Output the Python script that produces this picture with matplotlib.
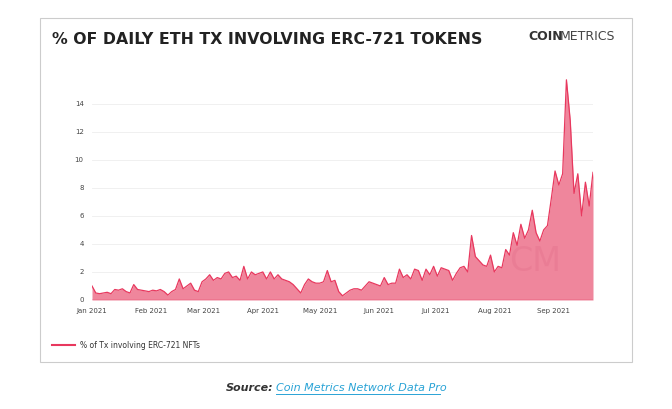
import matplotlib
matplotlib.use("Agg")
import matplotlib.pyplot as plt
import pandas as pd
from matplotlib.patches import Rectangle
from matplotlib.lines import Line2D

start_date = "2021-01-01"
values = [1.0,0.5,0.45,0.5,0.55,0.45,0.75,0.7,0.8,0.6,0.5,1.1,0.75,0.7,0.65,0.6,
          0.7,0.65,0.75,0.6,0.35,0.6,0.75,1.5,0.8,1.0,1.2,0.7,0.6,1.3,
          1.5,1.8,1.4,1.6,1.5,1.9,2.0,1.6,1.7,1.4,2.4,1.5,2.0,1.8,1.9,
          2.0,1.5,2.0,1.5,1.8,1.5,1.4,1.3,1.1,0.8,0.5,
          1.1,1.5,1.3,1.2,1.2,1.3,2.1,1.3,1.4,0.6,0.3,0.5,0.7,0.8,0.8,0.7,1.0,1.3,1.2,1.1,
          1.0,1.6,1.1,1.2,1.2,2.2,1.6,1.8,1.5,2.2,2.1,1.4,2.2,1.8,2.4,
          1.7,2.3,2.2,2.1,1.4,1.9,2.3,2.4,2.0,4.6,3.1,2.8,2.5,2.4,3.2,2.0,
          2.4,2.3,3.6,3.2,4.8,3.9,5.4,4.4,5.0,6.4,4.8,4.2,5.0,5.3,
          7.2,9.2,8.2,9.0,15.7,12.8,7.6,9.0,6.0,8.4,6.7,9.1]
dates = pd.date_range(start_date, periods=len(values), freq="2D")
xticks = pd.date_range("2021-01-01", "2021-09-01", freq="MS")
xtick_labels = [d.strftime("%b %Y") for d in xticks]
yticks = [0, 2, 4, 6, 8, 10, 12, 14]

fig = plt.figure(figsize=(6.72, 4.09), dpi=100)
fig.patches.append(Rectangle((40/672, 1-362/409), 592/672, 344/409, transform=fig.transFigure,
                             fill=False, edgecolor="#cccccc", linewidth=0.8))
ax = fig.add_axes([92/672, 1-300/409, 501/672, 224.4/409])
ax.fill_between(dates, values, color="#ef869c", linewidth=0)
ax.plot(dates, values, color="#e8385e", linewidth=0.9)
ax.set_xlim(dates[0], dates[-1])
ax.set_ylim(0, 16)
ax.set_yticks(yticks)
ax.set_yticklabels([str(v) for v in yticks])
ax.set_xticks(xticks)
ax.set_xticklabels(xtick_labels)
ax.tick_params(labelsize=5, colors="#444444", length=0, pad=6)
ax.grid(axis="y", color="#eeeeee", linewidth=0.6)
ax.set_axisbelow(True)
for s in ax.spines.values():
    s.set_visible(False)
ax.axhline(0, color="#e8385e", linewidth=1)
ax.text(0.885, 0.17, "CM", transform=ax.transAxes, fontsize=24, color="#e06a86",
        alpha=0.3, ha="center", va="center")

fig.text(52/672, 1-40/409, "% OF DAILY ETH TX INVOLVING ERC-721 TOKENS", fontsize=11.3,
         fontweight="bold", color="#222222", va="center")
fig.text(528/672, 1-37/409, "COIN", fontsize=9, fontweight="bold", color="#333333", va="center")
fig.text(560/672, 1-37/409, "METRICS", fontsize=9, color="#444444", va="center")

fig.lines.append(Line2D([52/672, 75/672], [1-345/409]*2, transform=fig.transFigure,
                        color="#e8385e", linewidth=1.5))
fig.text(80/672, 1-345/409, "% of Tx involving ERC-721 NFTs", fontsize=5.5, color="#333333", va="center")

fig.text(273/672, 1-388/409, "Source:", fontsize=8, fontweight="bold", style="italic",
         color="#333333", va="center", ha="right")
fig.text(276/672, 1-388/409, "Coin Metrics Network Data Pro", fontsize=8, style="italic",
         color="#29a3d6", va="center", ha="left")
fig.lines.append(Line2D([276/672, 440/672], [1-394/409]*2, transform=fig.transFigure,
                        color="#29a3d6", linewidth=0.7))
fig.savefig("out.png", dpi=100)
